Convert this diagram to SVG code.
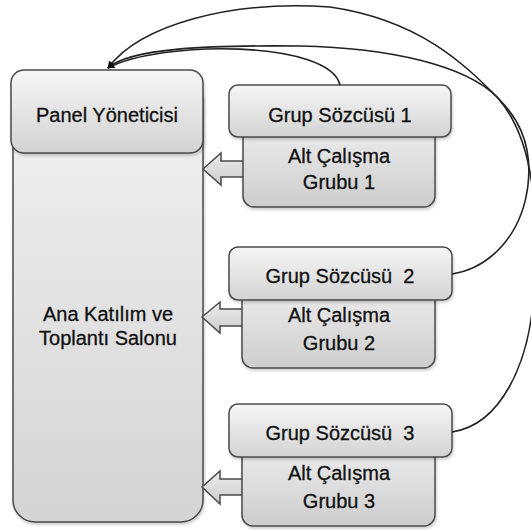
<svg xmlns="http://www.w3.org/2000/svg" width="531" height="530" viewBox="0 0 531 530">
<defs>
<linearGradient id="gBox" x1="0" y1="0" x2="0" y2="1">
<stop offset="0" stop-color="#f6f6f6"/>
<stop offset="1" stop-color="#d3d3d3"/>
</linearGradient>
<linearGradient id="gAlt" x1="0" y1="0" x2="0" y2="1">
<stop offset="0" stop-color="#ececec"/>
<stop offset="1" stop-color="#cdcdcd"/>
</linearGradient>
<linearGradient id="gHall" x1="0" y1="0" x2="0" y2="1">
<stop offset="0" stop-color="#f2f2f2"/>
<stop offset="1" stop-color="#d4d4d4"/>
</linearGradient>
<filter id="sh" x="-10%" y="-10%" width="130%" height="130%">
<feDropShadow dx="1" dy="2" stdDeviation="1.5" flood-color="#000" flood-opacity="0.2"/>
</filter>
<marker id="ah" viewBox="0 0 10 10" refX="9" refY="5" markerWidth="7" markerHeight="7" markerUnits="userSpaceOnUse" orient="auto">
<path d="M0,0 L10,5 L0,10 Z" fill="#111"/>
</marker>
</defs>
<style>
.box{stroke:#4a4a4a;stroke-width:1.5;filter:url(#sh)}
.blk{fill:url(#gAlt);stroke:#4a4a4a;stroke-width:1.5;stroke-linejoin:miter}
.t{font-family:"Liberation Sans",Arial,sans-serif;font-size:20px;fill:#111;stroke:#111;stroke-width:0.3;text-anchor:middle}
.c{fill:none;stroke:#222;stroke-width:1.6}
</style>

<g id="hall">
<rect class="box" x="13" y="80" width="190" height="442" rx="22" fill="url(#gHall)"/>
<text class="t" x="108" y="321">Ana Katılım ve</text>
<text class="t" x="108" y="345">Toplantı Salonu</text>
</g>

<g id="panel">
<rect class="box" x="11" y="70" width="192" height="83" rx="13" fill="url(#gBox)"/>
<text class="t" x="107" y="122">Panel Yöneticisi</text>
</g>

<g id="arrows">
<polygon class="blk" points="203,169 221,153 221,161 244,161 244,177 221,177 221,185"/>
<polygon class="blk" points="202,317 220,302 220,309 243,309 243,326 220,326 220,333"/>
<polygon class="blk" points="202,487 220,471 220,479 243,479 243,495 220,495 220,504"/>
</g>

<g id="alt1">
<rect class="box" x="243" y="127" width="192" height="80" rx="11" fill="url(#gAlt)"/>
<text class="t" x="339" y="163">Alt Çalışma</text>
<text class="t" x="339" y="189">Grubu 1</text>
</g>
<g id="grup1">
<rect class="box" x="229" y="85" width="222" height="52" rx="9" fill="url(#gBox)"/>
<text class="t" x="340" y="122">Grup Sözcüsü 1</text>
</g>

<g id="alt2">
<rect class="box" x="242" y="290" width="193" height="78" rx="11" fill="url(#gAlt)"/>
<text class="t" x="339" y="322">Alt Çalışma</text>
<text class="t" x="339" y="350">Grubu 2</text>
</g>
<g id="grup2">
<rect class="box" x="229" y="247" width="223" height="53" rx="9" fill="url(#gBox)"/>
<text class="t" x="340" y="283" xml:space="preserve">Grup Sözcüsü  2</text>
</g>

<g id="alt3">
<rect class="box" x="242" y="447" width="193" height="79" rx="11" fill="url(#gAlt)"/>
<text class="t" x="339" y="480">Alt Çalışma</text>
<text class="t" x="339" y="508">Grubu 3</text>
</g>
<g id="grup3">
<rect class="box" x="229" y="404" width="223" height="53" rx="9" fill="url(#gBox)"/>
<text class="t" x="340" y="440" xml:space="preserve">Grup Sözcüsü  3</text>
</g>

<g id="connectors">
<path class="c" d="M340,85 C330,40 160,40 108,68" marker-end="url(#ah)"/>
<path class="c" d="M452,274 C490,268 522,235 528,185 C533,140 515,115 497,97 C465,65 420,20 330,7 C230,0 140,25 108,68" marker-end="url(#ah)"/>
<path class="c" d="M452,432 C500,425 530,365 534,290 C538,210 535,140 497,97 C465,65 390,48 300,46 C210,45 130,48 108,68" marker-end="url(#ah)"/>
</g>
</svg>
